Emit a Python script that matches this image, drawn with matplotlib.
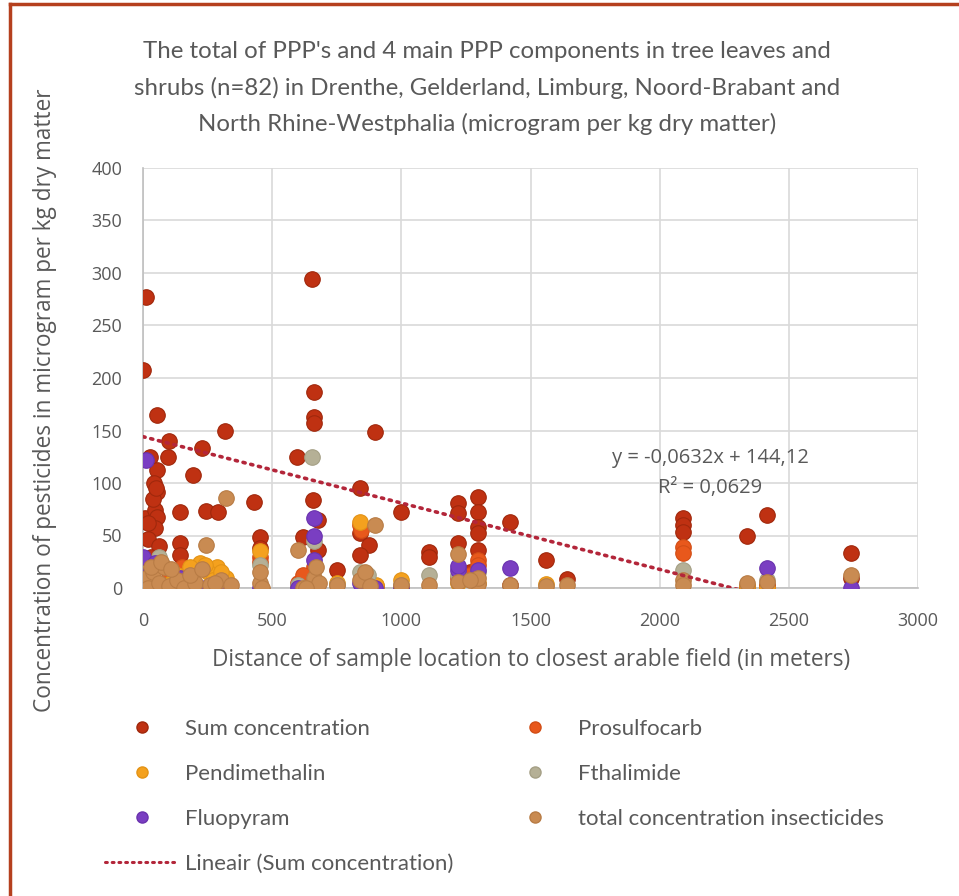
import matplotlib
matplotlib.use('Agg')
import matplotlib.pyplot as plt
from matplotlib.lines import Line2D

# data (distance in m, concentration in microgram/kg)
sum_x = [10, 0, 655, 660, 660, 660, 54, 317, 898, 100, 27, 97, 228, 193, 54, 43, 54, 430,
         596, 658, 678, 840, 1000, 8, 46, 54, 143, 244, 290, 46, 19, 143, 143, 453, 453,
         620, 678, 750, 840, 875, 840, 1220, 1220, 1297, 1297, 1297, 1297, 1421, 1107,
         1107, 1220, 1297, 1266, 1560, 1641, 2090, 2090, 2090, 2338, 2416, 2741,
         60, 30, 0, 100, 150, 330, 600, 900, 1000, 1421, 2338, 2416, 2741, 20, 40, 50]
sum_y = [277, 208, 294, 187, 163, 157, 165, 150, 149, 140, 125, 125, 133, 108, 112, 100, 91, 82,
         125, 84, 65, 95, 72, 67, 74, 68, 72, 73, 72, 57, 47, 43, 31, 49, 38,
         49, 36, 17, 52, 41, 31, 81, 71, 87, 72, 58, 52, 63, 34,
         30, 43, 36, 15, 27, 9, 67, 60, 53, 50, 70, 33,
         40, 30, 20, 10, 12, 2, 3, 2, 2, 3, 2, 3, 10, 62, 85, 95]

prosulfocarb_x = [840, 845, 2090, 2090, 1297, 1297, 453, 453, 150, 100, 660, 20, 1220, 2416, 600, 0, 620, 1266]
prosulfocarb_y = [60, 55, 39, 33, 27, 22, 30, 25, 20, 15, 20, 12, 10, 2, 5, 5, 12, 12]

pendimethalin_x = [220, 286, 182, 93, 250, 320, 453, 840, 1000, 1297, 2416, 2338, 660, 1220,
                   0, 50, 1560, 750, 900, 130, 270, 240, 300, 110]
pendimethalin_y = [24, 20, 20, 0, 15, 10, 35, 63, 8, 5, 0, 2, 5, 5,
                   0, 3, 4, 5, 3, 12, 8, 22, 15, 5]

fthalimide_x = [655, 1107, 2090, 453, 840, 660, 0, 60, 150, 1220, 1297, 1000, 2416, 600, 870, 750, 30]
fthalimide_y = [125, 12, 17, 22, 15, 45, 25, 30, 5, 12, 15, 3, 8, 3, 12, 3, 10]

fluopyram_x = [12, 0, 46, 27, 143, 240, 325, 660, 660, 660, 600, 1220, 1220, 1421, 2416,
               2741, 898, 1000, 840, 453, 1297]
fluopyram_y = [122, 30, 24, 15, 10, 0, 0, 67, 50, 27, 0, 17, 21, 19, 19,
               0, 0, 0, 5, 0, 17]

insecticides_x = [321, 244, 600, 898, 0, 10, 20, 40, 60, 80, 100, 130, 160, 200, 260, 300,
                  453, 453, 460, 660, 620, 680, 750, 840, 860, 880, 1000, 1107, 1220, 1220,
                  1297, 1297, 1421, 1560, 1641, 2090, 2090, 2338, 2416, 2741, 630, 670, 1266,
                  30, 70, 110, 180, 230, 280, 340]
insecticides_y = [86, 41, 36, 60, 5, 10, 0, 15, 5, 20, 2, 8, 0, 5, 3, 8,
                  5, 15, 0, 10, 0, 5, 3, 8, 15, 2, 3, 3, 6, 32,
                  4, 10, 3, 2, 3, 8, 3, 5, 6, 12, 0, 20, 8,
                  20, 25, 18, 12, 18, 5, 3]

trend_slope = -0.0632
trend_intercept = 144.12
trend_label = ['y = -0,0632x + 144,12', 'R² = 0,0629']

series = [
    ('Sum concentration', sum_x, sum_y, '#BF3112', '#A0280C'),
    ('Prosulfocarb', prosulfocarb_x, prosulfocarb_y, '#E8581C', '#D24E16'),
    ('Pendimethalin', pendimethalin_x, pendimethalin_y, '#F4A11E', '#E39316'),
    ('Fthalimide', fthalimide_x, fthalimide_y, '#B5B096', '#A5A086'),
    ('Fluopyram', fluopyram_x, fluopyram_y, '#7A3EC2', '#6A33AE'),
    ('total concentration insecticides', insecticides_x, insecticides_y, '#C98B52', '#B87C45'),
]

tick_font = 'Open Sans'
text_font = 'Lato'
grey = '#595959'
W, H = 959, 896

fig = plt.figure(figsize=(W/100, H/100), dpi=100)
ax = fig.add_axes([143/W, 1-588/H, (918-143)/W, (588-168)/H])

handles = {}
for name, xs, ys, fc, ec in series:
    ax.scatter(xs, ys, s=125, c=fc, edgecolors=ec, linewidths=0.8, zorder=3)
    handles[name] = Line2D([], [], linestyle='none', marker='o', markersize=8,
                           markerfacecolor=fc, markeredgecolor=ec)

tx = [0, max(sum_x)]
ty = [trend_intercept + trend_slope * v for v in tx]
ax.plot(tx, ty, color='#B3263A', linewidth=2.6, linestyle=(0, (0.6, 1.6)),
        dash_capstyle='round', zorder=4)
trend_handle = Line2D([], [], color='#B3263A', linewidth=2.2, linestyle=(0, (0.6, 1.6)),
                      dash_capstyle='round')

ax.text(2195, 124, trend_label[0], ha='center', va='center', fontsize=14.5,
        color=grey, family=tick_font, zorder=5)
ax.text(2195, 95, trend_label[1], ha='center', va='center', fontsize=14.5,
        color=grey, family=tick_font, zorder=5)

ax.set_xlim(0, 3000)
ax.set_ylim(0, 400)
ax.set_xticks(range(0, 3001, 500))
ax.set_yticks(range(0, 401, 50))
ax.grid(True, color='#D9D9D9', linewidth=1.2, zorder=0)
ax.set_axisbelow(True)
for side in ['top', 'right']:
    ax.spines[side].set_visible(False)
for side in ['left', 'bottom']:
    ax.spines[side].set_color('#BFBFBF')
    ax.spines[side].set_linewidth(1.2)
ax.tick_params(length=0, labelsize=13, labelcolor=grey)
ax.tick_params(axis='x', pad=17)
ax.tick_params(axis='y', pad=15)
for lab in ax.get_xticklabels() + ax.get_yticklabels():
    lab.set_family(tick_font)

fig.text(531/W, 1-660/H, 'Distance of sample location to closest arable field (in meters)',
         ha='center', va='center', fontsize=16.3, color=grey, family=tick_font)
fig.text(45/W, 1-400/H, 'Concentration of pesticides in microgram per kg dry matter',
         rotation=90, ha='center', va='center', fontsize=16.3, color=grey, family=tick_font)

title_lines = ["The total of PPP's and 4 main PPP components in tree leaves and",
               "shrubs (n=82) in Drenthe, Gelderland, Limburg, Noord-Brabant and",
               "North Rhine-Westphalia (microgram per kg dry matter)"]
for i, line in enumerate(title_lines):
    fig.text(487/W, 1-(52+36*i)/H, line, ha='center', va='center', fontsize=17.3,
             color=grey, family=text_font)

# two legend columns, placed separately
col1 = [handles['Sum concentration'], handles['Pendimethalin'], handles['Fluopyram'], trend_handle]
col1_lab = ['Sum concentration', 'Pendimethalin', 'Fluopyram', 'Lineair (Sum concentration)']
col2 = [handles['Prosulfocarb'], handles['Fthalimide'], handles['total concentration insecticides']]
col2_lab = ['Prosulfocarb', 'Fthalimide', 'total concentration insecticides']
leg_kw = dict(loc='upper left', frameon=False, handlelength=3.3, handletextpad=0.32,
              labelspacing=1.12, borderpad=0, borderaxespad=0,
              prop={'family': text_font, 'size': 16})
leg1 = fig.legend(col1, col1_lab, bbox_to_anchor=(105/W, 1-719/H), **leg_kw)
leg2 = fig.legend(col2, col2_lab, bbox_to_anchor=(498/W, 1-719/H), **leg_kw)
for lg in (leg1, leg2):
    for t in lg.get_texts():
        t.set_color(grey)

# frame of the original figure: only top and left edges show
border = '#B5401E'
fig.add_artist(Line2D([10/W, 1], [1-4/H, 1-4/H], transform=fig.transFigure, color=border, linewidth=2.5))
fig.add_artist(Line2D([10/W, 10/W], [0, 1-4/H], transform=fig.transFigure, color=border, linewidth=2.5))

fig.savefig('out.png', dpi=100)
